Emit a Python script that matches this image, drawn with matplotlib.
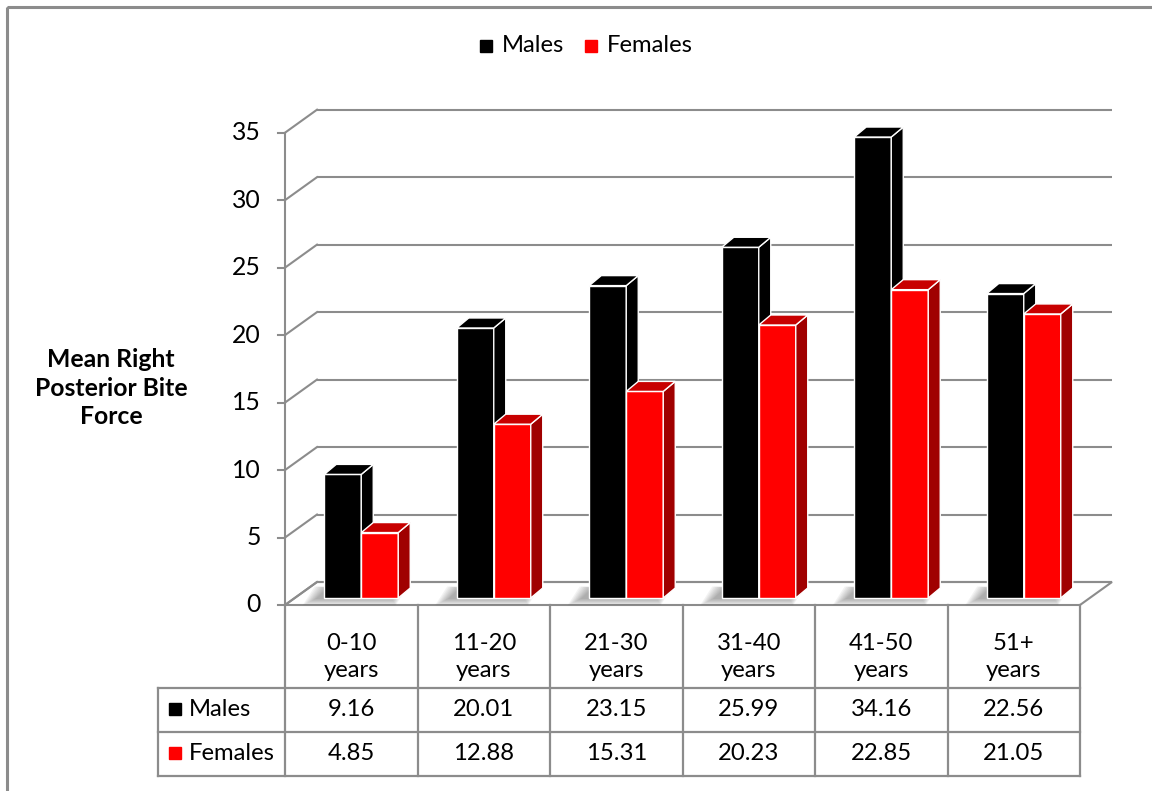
import numpy as np
import matplotlib
matplotlib.use("Agg")
import matplotlib.pyplot as plt
from matplotlib.patches import Polygon, Rectangle

plt.rcParams['font.family'] = ['Lato', 'DejaVu Sans']

# ---- data ----
categories = ["0-10", "11-20", "21-30", "31-40", "41-50", "51+"]
males = [9.16, 20.01, 23.15, 25.99, 34.16, 22.56]
females = [4.85, 12.88, 15.31, 20.23, 22.85, 21.05]
series_names = ["Males", "Females"]
y_ticks = [0, 5, 10, 15, 20, 25, 30, 35]

W, H = 1152, 791
DPI = 100
GRID = "#8c8c8c"
FS = 17.2

front_colors = ["#000000", "#ff0000"]
side_colors = ["#000000", "#a00000"]
top_colors = ["#000000", "#c80000"]


def fx(px):
    return px / W


def fy(py):
    return 1 - py / H


fig = plt.figure(figsize=(W / DPI, H / DPI), dpi=DPI)

# overlay in pixel units for frame, legend and axis title
over = fig.add_axes([0, 0, 1, 1], zorder=-5)
over.set_xlim(0, W)
over.set_ylim(H, 0)
over.axis("off")
over.add_patch(Rectangle((7, 7), W + 20, H + 20, fill=False,
                         edgecolor=GRID, lw=2.2))

# plot area
ax = fig.add_axes([fx(285), fy(605), fx(1080) - fx(285), fy(132.7) - fy(605)])
ax.set_xlim(0, len(categories))
ax.set_ylim(0, 35)
ax.axis("off")


def delta(dx_px, dy_px):
    """Convert a screen offset in pixels to a data offset."""
    p0 = ax.transData.transform((0, 0))
    return ax.transData.inverted().transform(p0 + np.array([dx_px, dy_px]))


wall = delta(32, 23)     # depth of the chart box
front = delta(10, 7)     # bars sit mid-depth
depth = delta(12, 10)    # depth of a single bar
tick = delta(-7, 0)

n = len(categories)

# floor
floor = Polygon([(0, 0), (n, 0), (n + wall[0], wall[1]), (wall[0], wall[1])],
                closed=True, facecolor="white", edgecolor=GRID, lw=1.5,
                zorder=1, clip_on=False)
ax.add_patch(floor)

# back wall gridlines, side-wall diagonals and ticks
for v in y_ticks:
    ax.plot([wall[0], n + wall[0]], [v + wall[1], v + wall[1]], color=GRID,
            lw=1.5, zorder=1.5, clip_on=False, solid_capstyle="butt")
    ax.plot([0, wall[0]], [v, v + wall[1]], color=GRID, lw=1.5,
            zorder=1.5, clip_on=False)
    ax.plot([tick[0], 0], [v, v], color=GRID, lw=1.5, zorder=1.5,
            clip_on=False)
    ax.text(tick[0] - delta(17, 0)[0], v, f"{v}", ha="right", va="center",
            fontsize=FS + 0.6, color="#000000")
ax.plot([0, 0], [0, 35], color=GRID, lw=1.5, zorder=1.6, clip_on=False)

# bars
bw = 37 / 132.5
for i in range(n):
    vals = [males[i], females[i]]
    x0 = i + 0.5 - bw + front[0]
    y0 = front[1]
    # soft floor shadow under the pair
    for k in range(8):
        g = 2 + k * 1.8
        gx = delta(g, 0)[0]
        gy = delta(0, g * 0.5)[1]
        sx = delta(-7, 0)[0]
        shadow = Polygon([
            (x0 - gx + sx, y0 - gy),
            (x0 + 2 * bw + gx * 0.3 + sx, y0 - gy),
            (x0 + 2 * bw + depth[0] + gx * 0.3 + sx, y0 + depth[1] + gy * 0.2),
            (x0 + depth[0] - gx + sx, y0 + depth[1] + gy * 0.2)],
            closed=True, facecolor="#505050", edgecolor="none",
            alpha=0.07, zorder=2, clip_on=False)
        ax.add_patch(shadow)
    for j, v in enumerate(vals):
        xl = x0 + j * bw
        xr = xl + bw
        zb = 3 + i + j * 0.3
        ax.add_patch(Rectangle((xl, y0), bw, v, facecolor=front_colors[j],
                               edgecolor="white", lw=1.0, zorder=zb,
                               clip_on=False))
        ax.add_patch(Polygon([(xr, y0), (xr + depth[0], y0 + depth[1]),
                              (xr + depth[0], y0 + v + depth[1]),
                              (xr, y0 + v)], closed=True,
                             facecolor=side_colors[j], edgecolor="white",
                             lw=1.0, zorder=zb + 0.1, clip_on=False))
        ax.add_patch(Polygon([(xl, y0 + v), (xr, y0 + v),
                              (xr + depth[0], y0 + v + depth[1]),
                              (xl + depth[0], y0 + v + depth[1])],
                             closed=True, facecolor=top_colors[j],
                             edgecolor="white", lw=1.0, zorder=zb + 0.1,
                             clip_on=False))

# data table
tab = fig.add_axes([fx(285), fy(776), fx(1080) - fx(285), fy(605) - fy(776)])
tab.set_xlim(0, n)
tab.set_ylim(171, 0)
tab.axis("off")
left = -(285 - 158) / 132.5
rows = [0, 83, 127, 171]
for k in range(n + 1):
    tab.plot([k, k], [0, 171], color=GRID, lw=1.6, clip_on=False)
tab.plot([left, left], [83, 171], color=GRID, lw=1.6, clip_on=False)
for r in rows[1:]:
    tab.plot([left, n], [r, r], color=GRID, lw=1.6, clip_on=False)

for i, c in enumerate(categories):
    tab.text(i + 0.5, 52, f"{c}\nyears", ha="center", va="center",
             fontsize=FS, linespacing=1.3)
    tab.text(i + 0.5, 105, f"{males[i]:.2f}", ha="center", va="center",
             fontsize=FS)
    tab.text(i + 0.5, 149, f"{females[i]:.2f}", ha="center", va="center",
             fontsize=FS)

for name, yc, col in zip(series_names, [104, 148], front_colors):
    tab.plot([-(285 - 175) / 132.5], [yc], marker="s", markersize=8,
             color=col, clip_on=False, linestyle="none")
    tab.text(-(285 - 189) / 132.5, yc, name, ha="left", va="center",
             fontsize=FS)

# legend
for name, sx, tx, col in zip(series_names, [486, 591], [502, 607], front_colors):
    over.plot([sx], [46], marker="s", markersize=8, color=col,
              linestyle="none")
    over.text(tx, 46, name, ha="left", va="center", fontsize=FS)

# axis title
over.text(111, 388, "Mean Right\nPosterior Bite\nForce", ha="center",
          va="center", fontsize=FS + 0.6, fontweight="bold", linespacing=1.3)

fig.savefig("out.png", dpi=DPI)
